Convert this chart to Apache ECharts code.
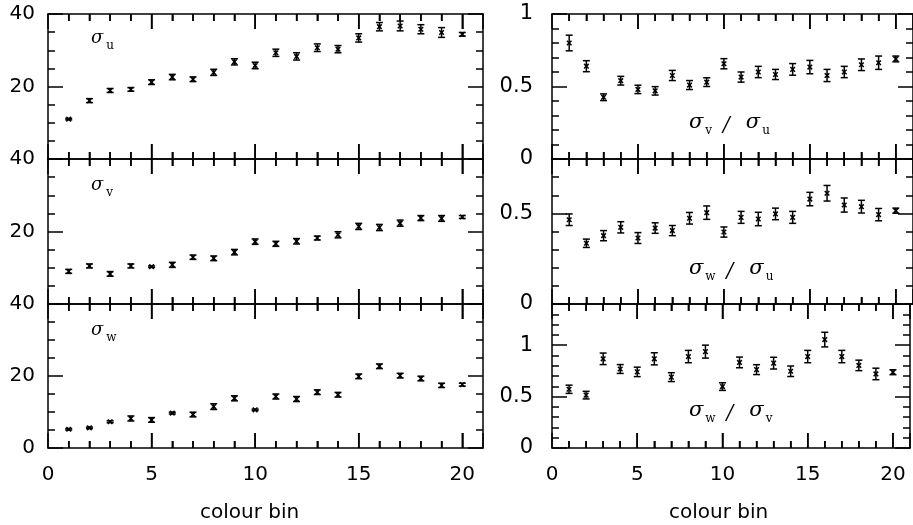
<!DOCTYPE html>
<html><head><meta charset="utf-8">
<script src="https://cdn.jsdelivr.net/npm/echarts@6/dist/echarts.min.js"></script>
<style>html,body{margin:0;padding:0;background:#fff}#c{width:913px;height:525px}</style>
</head><body><div id="c"></div>
<script>
// ---------------- data ----------------
const bins = [1,2,3,4,5,6,7,8,9,10,11,12,13,14,15,16,17,18,19,20];

const sigmaU    = [11.0,16.1,18.9,19.2,21.2,22.6,22.0,23.9,26.8,25.8,29.3,28.3,30.7,30.3,33.4,36.5,36.7,35.8,34.9,34.4];
const sigmaUErr = [0.2,0.55,0.55,0.5,0.65,0.75,0.65,0.85,0.85,0.9,1.0,1.0,1.05,1.0,1.15,1.15,1.35,1.25,1.35,0.5];

const sigmaV    = [9.0,10.5,8.3,10.5,10.3,10.8,12.9,12.6,14.3,17.2,16.6,17.3,18.2,19.1,21.4,21.1,22.3,23.7,23.6,24.0];
const sigmaVErr = [0.55,0.55,0.65,0.55,0.2,0.7,0.6,0.65,0.75,0.75,0.7,0.75,0.55,0.85,0.85,0.85,0.85,0.7,0.8,0.4];

const sigmaW    = [5.2,5.6,7.3,8.2,7.8,9.7,9.3,11.5,13.8,10.6,14.3,13.6,15.5,14.8,19.9,22.7,20.1,19.3,17.4,17.6];
const sigmaWErr = [0.2,0.2,0.25,0.7,0.65,0.25,0.65,0.8,0.7,0.2,0.7,0.7,0.65,0.65,0.65,0.65,0.65,0.65,0.6,0.4];

const ratioVU    = [0.80,0.64,0.426,0.54,0.48,0.47,0.576,0.51,0.53,0.657,0.565,0.60,0.583,0.618,0.634,0.576,0.60,0.65,0.664,0.69];
const ratioVUErr = [0.054,0.038,0.023,0.03,0.029,0.029,0.035,0.031,0.03,0.035,0.035,0.039,0.035,0.04,0.046,0.042,0.039,0.04,0.046,0.02];

const ratioWU    = [0.465,0.335,0.377,0.423,0.364,0.419,0.405,0.473,0.504,0.397,0.478,0.469,0.497,0.478,0.579,0.611,0.546,0.537,0.493,0.515];
const ratioWUErr = [0.032,0.023,0.028,0.031,0.03,0.029,0.028,0.032,0.037,0.028,0.033,0.037,0.032,0.033,0.037,0.043,0.039,0.035,0.034,0.014];

const ratioWV    = [0.571,0.514,0.867,0.768,0.74,0.867,0.689,0.889,0.937,0.597,0.832,0.762,0.825,0.746,0.889,1.054,0.889,0.803,0.72,0.737];
const ratioWVErr = [0.04,0.037,0.056,0.043,0.046,0.059,0.043,0.06,0.063,0.037,0.052,0.048,0.057,0.051,0.06,0.071,0.06,0.051,0.056,0.024];

// tick values and labels
const xTickValues      = [1,2,3,4,5,6,7,8,9,10,11,12,13,14,15,16,17,18,19,20];
const xMajorTicks      = [5,10,15,20];
const xTickLabels      = ['0','5','10','15','20'];
const leftTopYLabels   = ['20','40'];
const leftMidYLabels   = ['20','40'];
const leftBotYLabels   = ['0','20','40'];
const rightTopYLabels  = ['0','0.5','1'];
const rightMidYLabels  = ['0','0.5'];
const rightBotYLabels  = ['0','0.5','1'];
const xAxisTitle = 'colour bin';

// ---------------- layout ----------------
const colLeft  = [48, 552];
const colWidth = [435, 362];
const rowTop   = [14, 159, 304];
const rowH     = [145, 145, 144];

const panels = [
  {col:0,row:0,vals:sigmaU,errs:sigmaUErr,yMin:0,yMax:40,yMajor:20,yMinor:5,yLabels:leftTopYLabels},
  {col:0,row:1,vals:sigmaV,errs:sigmaVErr,yMin:0,yMax:40,yMajor:20,yMinor:5,yLabels:leftMidYLabels},
  {col:0,row:2,vals:sigmaW,errs:sigmaWErr,yMin:0,yMax:40,yMajor:20,yMinor:5,yLabels:leftBotYLabels},
  {col:1,row:0,vals:ratioVU,errs:ratioVUErr,yMin:0,yMax:1,yMajor:0.5,yMinor:0.1,yLabels:rightTopYLabels},
  {col:1,row:1,vals:ratioWU,errs:ratioWUErr,yMin:0,yMax:0.8,yMajor:0.5,yMinor:0.1,yLabels:rightMidYLabels},
  {col:1,row:2,vals:ratioWV,errs:ratioWVErr,yMin:0,yMax:1.4,yMajor:0.5,yMinor:0.1,yLabels:rightBotYLabels}
];

const FONT = 'DejaVu Sans';
const lineSt = {color:'#000', width:1.5};
function fmt(list){ return v => { const s = String(+(+v).toFixed(3)); return list.indexOf(s) >= 0 ? s : ''; }; }
function axLine(show){ return {show:show, onZero:false, lineStyle:lineSt}; }

const grid = [], xAxis = [], yAxis = [], series = [];
panels.forEach((p, g) => {
  grid.push({left: colLeft[p.col], top: rowTop[p.row], width: colWidth[p.col], height: rowH[p.row]});
  const xBase = {gridIndex:g, type:'value', min:0, max:21, splitLine:{show:false}};
  const xi = xAxis.length;
  // main bottom axis (line + labels + inward major ticks)
  xAxis.push(Object.assign({}, xBase, {position:'bottom', interval:5, axisLine:axLine(true),
    axisTick:{show:true, inside:true, length:15, lineStyle:lineSt},
    axisLabel:{show:p.row===2, formatter:fmt(xTickLabels), color:'#000', fontFamily:FONT, fontSize:20, margin:17}}));
  // bottom minor ticks, inward
  xAxis.push(Object.assign({}, xBase, {position:'bottom', interval:1, axisLine:axLine(false),
    axisTick:{show:true, inside:true, length:7, lineStyle:lineSt}, axisLabel:{show:false}}));
  // top axis (line + inward ticks)
  xAxis.push(Object.assign({}, xBase, {position:'top', interval:5, axisLine:axLine(true),
    axisTick:{show:true, inside:true, length:15, lineStyle:lineSt}, axisLabel:{show:false}}));
  xAxis.push(Object.assign({}, xBase, {position:'top', interval:1, axisLine:axLine(false),
    axisTick:{show:true, inside:true, length:7, lineStyle:lineSt}, axisLabel:{show:false}}));
  // same ticks again, drawn outward from axes shifted into the plot (coincide with the ones above)
  xAxis.push(Object.assign({}, xBase, {position:'bottom', offset:-15, interval:5, axisLine:axLine(false),
    axisTick:{show:true, inside:false, length:15, lineStyle:lineSt}, axisLabel:{show:false}}));
  xAxis.push(Object.assign({}, xBase, {position:'bottom', offset:-7, interval:1, axisLine:axLine(false),
    axisTick:{show:true, inside:false, length:7, lineStyle:lineSt}, axisLabel:{show:false}}));
  xAxis.push(Object.assign({}, xBase, {position:'top', offset:-15, interval:5, axisLine:axLine(false),
    axisTick:{show:true, inside:false, length:15, lineStyle:lineSt}, axisLabel:{show:false}}));
  xAxis.push(Object.assign({}, xBase, {position:'top', offset:-7, interval:1, axisLine:axLine(false),
    axisTick:{show:true, inside:false, length:7, lineStyle:lineSt}, axisLabel:{show:false}}));

  const yBase = {gridIndex:g, type:'value', min:p.yMin, max:p.yMax, splitLine:{show:false}};
  const yi = yAxis.length;
  yAxis.push(Object.assign({}, yBase, {position:'left', interval:p.yMajor, axisLine:axLine(true),
    axisTick:{show:true, inside:true, length:15, lineStyle:lineSt},
    axisLabel:{show:true, formatter:fmt(p.yLabels), color:'#000', fontFamily:FONT, fontSize:p.col===0?20:21,
      margin:p.col===0?13:19, padding:[9,0,0,0]}}));
  yAxis.push(Object.assign({}, yBase, {position:'left', interval:p.yMinor, axisLine:axLine(false),
    axisTick:{show:true, inside:true, length:7, lineStyle:lineSt}, axisLabel:{show:false}}));
  yAxis.push(Object.assign({}, yBase, {position:'right', interval:p.yMajor, axisLine:axLine(true),
    axisTick:{show:true, inside:true, length:15, lineStyle:lineSt}, axisLabel:{show:false}}));
  yAxis.push(Object.assign({}, yBase, {position:'right', interval:p.yMinor, axisLine:axLine(false),
    axisTick:{show:true, inside:true, length:7, lineStyle:lineSt}, axisLabel:{show:false}}));

  // x ticks once more through the axis scale (custom series, on top)
  series.push({
    type:'custom', xAxisIndex:xi, yAxisIndex:yi, silent:true, clip:false, z:10,
    data: xTickValues.map(v => [v, p.yMin, p.yMax]),
    renderItem: renderTick
  });
  series.push({
    type:'custom', xAxisIndex:xi, yAxisIndex:yi, silent:true, clip:false, z:11,
    data: bins.map((b, i) => [b, p.vals[i], p.errs[i]]),
    renderItem: renderErr
  });
});

function renderTick(params, api) {
  const v = api.value(0);
  const bot = api.coord([v, api.value(1)]);
  const top = api.coord([v, api.value(2)]);
  const len = xMajorTicks.indexOf(v) >= 0 ? 15 : 7;
  const st = {stroke:'#000', lineWidth:1.5, fill:null};
  return {type:'group', children:[
    {type:'line', shape:{x1:bot[0], y1:bot[1], x2:bot[0], y2:bot[1] - len}, style:st},
    {type:'line', shape:{x1:top[0], y1:top[1], x2:top[0], y2:top[1] + len}, style:st}
  ]};
}

function renderErr(params, api) {
  const x = api.value(0), y = api.value(1), e = api.value(2);
  const c = api.coord([x, y]);
  const t = api.coord([x, y + e])[1];
  const b = api.coord([x, y - e])[1];
  const cw = 3.5, m = 2.3;
  const st = {stroke:'#000', lineWidth:1.5, fill:null};
  return {type:'group', children:[
    {type:'line', shape:{x1:c[0], y1:t, x2:c[0], y2:b}, style:st},
    {type:'line', shape:{x1:c[0]-cw, y1:t, x2:c[0]+cw, y2:t}, style:st},
    {type:'line', shape:{x1:c[0]-cw, y1:b, x2:c[0]+cw, y2:b}, style:st},
    {type:'line', shape:{x1:c[0]-m, y1:c[1]-m, x2:c[0]+m, y2:c[1]+m}, style:st},
    {type:'line', shape:{x1:c[0]-m, y1:c[1]+m, x2:c[0]+m, y2:c[1]-m}, style:st}
  ]};
}

const sigFont = 'DejaVu Serif';
function leftLabel(sub, x, y) {
  return {type:'text', left:x, top:y - 14, style:{
    text:'{s|σ}{b|' + sub + '}', fill:'#000',
    rich:{ s:{fontFamily:sigFont, fontStyle:'italic', fontSize:18, lineHeight:28, verticalAlign:'middle', fill:'#000'},
           b:{fontFamily:sigFont, fontSize:12, lineHeight:10, verticalAlign:'bottom', fill:'#000', padding:[0,0,0,3]} }
  }};
}
function ratioLabel(a, bb, x, y) {
  return {type:'text', left:x, top:y - 14, style:{
    text:'{s|σ}{b|' + a + '}{sl|/}{s|σ}{b|' + bb + '}', fill:'#000',
    rich:{ s:{fontFamily:sigFont, fontStyle:'italic', fontSize:21, lineHeight:28, verticalAlign:'middle', fill:'#000'},
           b:{fontFamily:sigFont, fontSize:12, lineHeight:10, verticalAlign:'bottom', fill:'#000', padding:[0,0,0,2]},
           sl:{fontFamily:sigFont, fontStyle:'italic', fontSize:20, lineHeight:28, verticalAlign:'middle', fill:'#000', padding:[6,16,0,11]} }
  }};
}

const graphic = [
  leftLabel('u', 91, 43),
  leftLabel('v', 91, 190),
  leftLabel('w', 91, 335),
  ratioLabel('v', 'u', 689, 124),
  ratioLabel('w', 'u', 689, 270),
  ratioLabel('w', 'v', 689, 412),
  {type:'text', left:200, top:503, style:{text:xAxisTitle, fontFamily:FONT, fontSize:20, fill:'#000'}},
  {type:'text', left:669, top:503, style:{text:xAxisTitle, fontFamily:FONT, fontSize:20, fill:'#000'}}
];

const chart = echarts.init(document.getElementById('c'), null, {renderer:'canvas'});
chart.setOption({
  backgroundColor:'#fff', animation:false,
  grid, xAxis, yAxis, series, graphic
});
</script></body></html>
